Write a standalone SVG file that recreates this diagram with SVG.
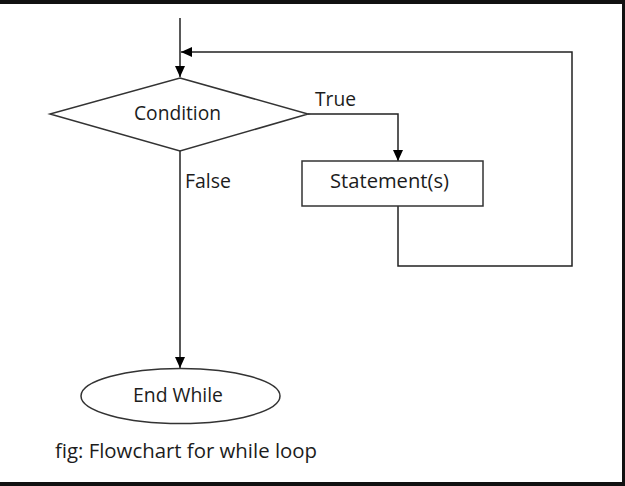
<svg xmlns="http://www.w3.org/2000/svg" width="625" height="486" viewBox="0 0 625 486">
  <style>
    .shape { fill: #ffffff; stroke: #333333; stroke-width: 1.5; }
    .conn { fill: none; stroke: #222222; stroke-width: 1.5; }
    .lbl { font-family: "Open Sans", "Liberation Sans", sans-serif; font-size: 19.5px; fill: #1c1c1c; }
    .mid { text-anchor: middle; }
  </style>
  <defs>
    <marker id="arrow" markerUnits="userSpaceOnUse" markerWidth="12" markerHeight="12" viewBox="0 0 12 12" refX="11" refY="6" orient="auto">
      <path d="M0,1 L11,6 L0,11 Z" fill="#000000"/>
    </marker>
  </defs>
  <rect x="0" y="0" width="625" height="486" fill="#ffffff"/>
  <g id="frame" fill="#111111">
    <rect x="0" y="0" width="625" height="4"/>
    <rect x="0" y="482" width="625" height="4"/>
    <rect x="622" y="0" width="3" height="486"/>
  </g>
  <g id="connectors">
    <path class="conn" d="M180,18 L180,77" marker-end="url(#arrow)"/>
    <path class="conn" d="M398,206 L398,266 L572,266 L572,52 L181,52" marker-end="url(#arrow)"/>
    <path class="conn" d="M308,114 L398,114 L398,161" marker-end="url(#arrow)"/>
    <path class="conn" d="M180,151 L180,368" marker-end="url(#arrow)"/>
  </g>
  <g id="condition">
    <polygon class="shape" points="180,78 308,114 180,151 50,114"/>
    <text class="lbl mid" x="177.5" y="120" textLength="87" lengthAdjust="spacingAndGlyphs">Condition</text>
  </g>
  <g id="statements">
    <rect class="shape" x="302" y="161" width="181" height="45"/>
    <text class="lbl mid" x="389.5" y="188" textLength="119" lengthAdjust="spacingAndGlyphs">Statement(s)</text>
  </g>
  <g id="endwhile">
    <ellipse class="shape" cx="180.5" cy="396" rx="99.5" ry="27.5"/>
    <text class="lbl mid" x="178" y="402" textLength="90" lengthAdjust="spacingAndGlyphs">End While</text>
  </g>
  <g id="labels">
    <text class="lbl" x="315" y="106" textLength="41" lengthAdjust="spacingAndGlyphs">True</text>
    <text class="lbl" x="185" y="188" textLength="46" lengthAdjust="spacingAndGlyphs">False</text>
    <text class="lbl" x="55" y="458" textLength="262" lengthAdjust="spacingAndGlyphs">fig: Flowchart for while loop</text>
  </g>
</svg>
